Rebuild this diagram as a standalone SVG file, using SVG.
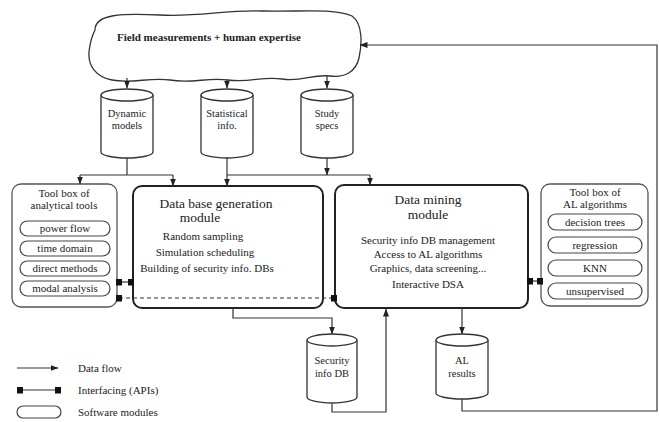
<svg xmlns="http://www.w3.org/2000/svg" width="659" height="422" viewBox="0 0 659 422">
<style>
text{font-family:"Liberation Serif","Times New Roman",serif;fill:#222;}
.t{font-size:11px;text-anchor:middle;}
.s{font-size:10.5px;text-anchor:middle;}
.h{font-size:13.5px;text-anchor:middle;}
.l{font-size:11px;}
.ln{fill:none;stroke:#333;stroke-width:1.2;}
.cyl{fill:#fff;stroke:#333;stroke-width:1.3;}
.mod{fill:#fff;stroke:#222;stroke-width:2;}
.tb{fill:#fff;stroke:#555;stroke-width:1.3;}
.pill{fill:#fff;stroke:#444;stroke-width:1.2;}
</style>
<defs>
<marker id="ar" markerUnits="userSpaceOnUse" markerWidth="8" markerHeight="8" viewBox="0 0 8 8" refX="7.5" refY="4" orient="auto">
<path d="M0,1 L8,4 L0,7 Z" fill="#222"/>
</marker>
<marker id="sq" markerUnits="userSpaceOnUse" markerWidth="6" markerHeight="7" viewBox="0 0 6 7" refX="3" refY="3.5" orient="auto">
<rect x="0" y="0" width="6" height="7" fill="#111"/>
</marker>
</defs>
<rect width="659" height="422" fill="#fff"/>

<g id="cloud">
<path class="cyl" d="M95,30 C95,14 122,13 160,15 C200,17 222,10 262,11 C302,12 336,8 352,16 C363,24 362,44 359,58 C356,72 344,78 330,76 C312,74 302,82 282,79 C262,76 250,83 228,80 C208,77 192,84 170,80 C150,77 132,84 112,80 C96,77 88,66 89,52 C90,42 92,36 95,30 Z"/>
<text class="l" x="117" y="41" font-size="11.5" font-weight="bold">Field measurements + human expertise</text>
</g>

<g id="dyn">
<path class="cyl" d="M101,95 V152 A26,6 0 0 0 153,152 V95"/>
<ellipse class="cyl" cx="127" cy="95" rx="26" ry="6"/>
<text class="s" x="127" y="117">Dynamic</text>
<text class="s" x="127" y="129">models</text>
</g>
<g id="stat">
<path class="cyl" d="M201,95 V152 A26,6 0 0 0 253,152 V95"/>
<ellipse class="cyl" cx="227" cy="95" rx="26" ry="6"/>
<text class="s" x="227" y="117">Statistical</text>
<text class="s" x="227" y="129">info.</text>
</g>
<g id="study">
<path class="cyl" d="M301,95 V152 A26,6 0 0 0 353,152 V95"/>
<ellipse class="cyl" cx="327" cy="95" rx="26" ry="6"/>
<text class="s" x="327" y="117">Study</text>
<text class="s" x="327" y="129">specs</text>
</g>

<g id="toolbox-analytical">
<rect class="tb" x="12" y="184" width="105" height="123" rx="9"/>
<text class="t" x="64" y="197">Tool box of</text>
<text class="t" x="64" y="209">analytical tools</text>
<rect class="pill" x="20" y="221" width="90" height="15" rx="7.5"/>
<text class="t" x="65" y="232">power flow</text>
<rect class="pill" x="20" y="241" width="90" height="15" rx="7.5"/>
<text class="t" x="65" y="252">time domain</text>
<rect class="pill" x="20" y="261" width="90" height="15" rx="7.5"/>
<text class="t" x="65" y="272">direct methods</text>
<rect class="pill" x="20" y="281" width="90" height="15" rx="7.5"/>
<text class="t" x="65" y="292">modal analysis</text>
</g>

<g id="dbgen">
<rect class="mod" x="133" y="186" width="190" height="122" rx="9"/>
<text class="h" x="216" y="208">Data base generation</text>
<text class="h" x="200" y="222">module</text>
<text class="t" x="203" y="240">Random sampling</text>
<text class="t" x="205" y="256">Simulation scheduling</text>
<text class="t" x="207" y="272">Building of security info. DBs</text>
</g>

<g id="datamining">
<rect class="mod" x="335" y="185" width="193" height="123" rx="9"/>
<text class="h" x="428" y="204">Data mining</text>
<text class="h" x="428" y="219">module</text>
<text class="t" x="428" y="244">Security info DB management</text>
<text class="t" x="428" y="258">Access to AL algorithms</text>
<text class="t" x="428" y="272">Graphics, data screening...</text>
<text class="t" x="428" y="288">Interactive DSA</text>
</g>

<g id="toolbox-al">
<rect class="tb" x="541" y="184" width="107" height="122" rx="9"/>
<text class="t" x="595" y="196">Tool box of</text>
<text class="t" x="595" y="208">AL algorithms</text>
<rect class="pill" x="548" y="214" width="94" height="16" rx="8"/>
<text class="t" x="595" y="226">decision trees</text>
<rect class="pill" x="548" y="237" width="94" height="16" rx="8"/>
<text class="t" x="595" y="249">regression</text>
<rect class="pill" x="548" y="260" width="94" height="16" rx="8"/>
<text class="t" x="595" y="272">KNN</text>
<rect class="pill" x="548" y="283" width="94" height="16" rx="8"/>
<text class="t" x="595" y="295">unsupervised</text>
</g>

<g id="secdb">
<path class="cyl" d="M307,340 V397 A25,6 0 0 0 357,397 V340"/>
<ellipse class="cyl" cx="332" cy="340" rx="25" ry="6"/>
<text class="s" x="332" y="364">Security</text>
<text class="s" x="332" y="377">info DB</text>
</g>

<g id="alres">
<path class="cyl" d="M436,340 V393 A26,6 0 0 0 488,393 V340"/>
<ellipse class="cyl" cx="462" cy="340" rx="26" ry="6"/>
<text class="s" x="462" y="364">AL</text>
<text class="s" x="462" y="377">results</text>
</g>

<g id="connectors">
<path class="ln" d="M127,78 V88" marker-end="url(#ar)"/>
<path class="ln" d="M227,80 V88" marker-end="url(#ar)"/>
<path class="ln" d="M327,76 V88" marker-end="url(#ar)"/>
<path class="ln" d="M127,158 V175"/>
<path class="ln" d="M80,175 H173"/>
<path class="ln" d="M80,175 V184" marker-end="url(#ar)"/>
<path class="ln" d="M173,175 V186" marker-end="url(#ar)"/>
<path class="ln" d="M227,158 V186" marker-end="url(#ar)"/>
<path class="ln" d="M327,158 V175" marker-end="url(#ar)"/>
<path class="ln" d="M227,175 H370"/>
<path class="ln" d="M370,175 V185" marker-end="url(#ar)"/>
<path class="ln" d="M119,282 H131" marker-start="url(#sq)" marker-end="url(#sq)"/>
<path class="ln" d="M119,298 H334" stroke-dasharray="4,3" marker-start="url(#sq)" marker-end="url(#sq)"/>
<path class="ln" d="M530,281 H540" marker-start="url(#sq)" marker-end="url(#sq)"/>
<path class="ln" d="M233,308 V318 H332 V334" marker-end="url(#ar)"/>
<path class="ln" d="M332,404 V412 H386 V309" marker-end="url(#ar)"/>
<path class="ln" d="M462,308 V334" marker-end="url(#ar)"/>
<path class="ln" d="M462,399 V411 H657 V45 H360" marker-end="url(#ar)"/>
</g>

<g id="legend">
<path class="ln" d="M17,368 H58" marker-end="url(#ar)"/>
<text class="l" x="78" y="372">Data flow</text>
<path class="ln" d="M20,390 H58" marker-start="url(#sq)" marker-end="url(#sq)"/>
<text class="l" x="78" y="394">Interfacing (APIs)</text>
<rect class="pill" x="17" y="406" width="44" height="12" rx="6"/>
<text class="l" x="78" y="416">Software modules</text>
</g>
</svg>
